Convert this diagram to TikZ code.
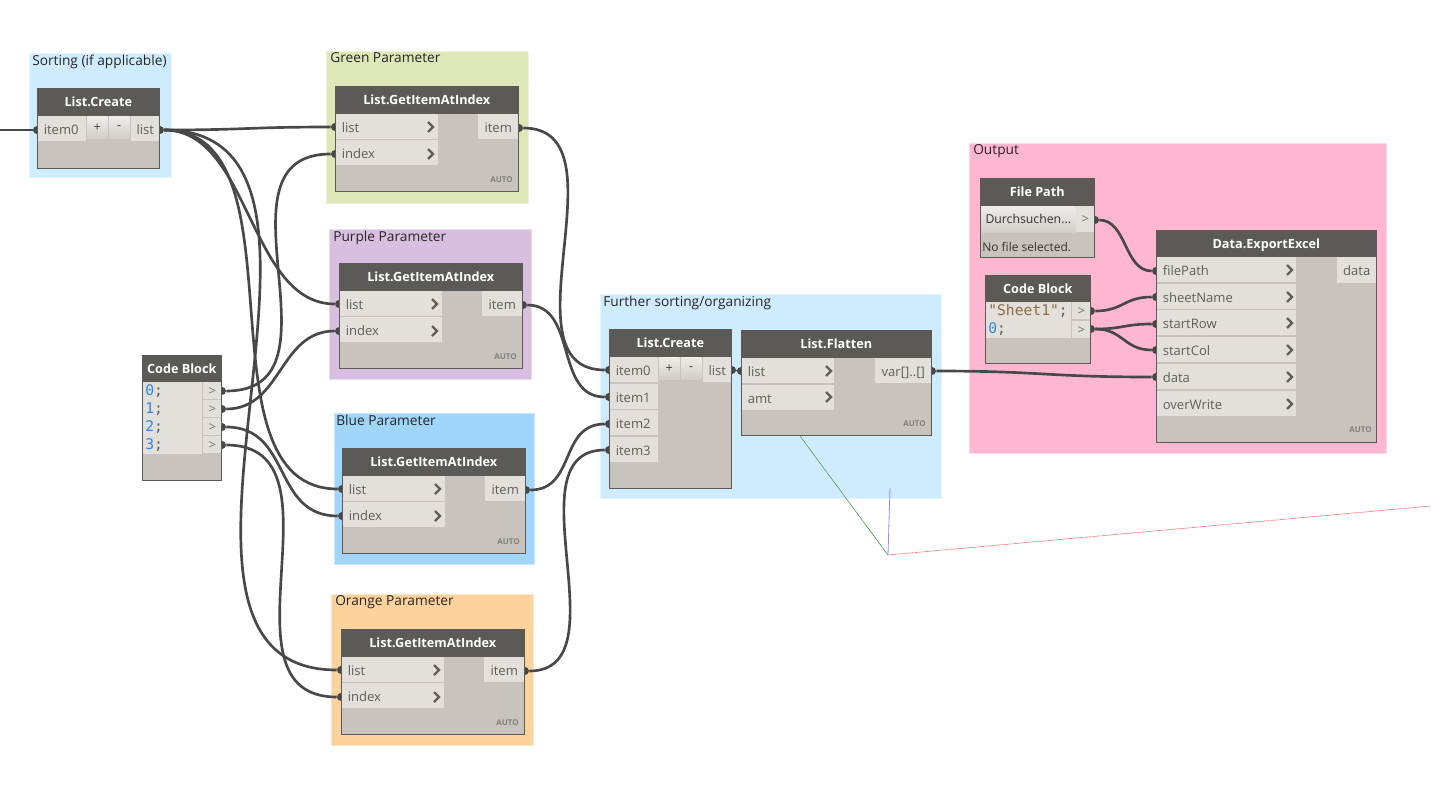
\documentclass[tikz,border=0pt]{standalone}
\usepackage{fontspec}
\setmainfont{Open Sans}
\setmonofont{DejaVu Sans Mono}
\definecolor{sortc}{HTML}{CFECFF}
\definecolor{grnc}{HTML}{DDE7B8}
\definecolor{purc}{HTML}{D9BFDF}
\definecolor{bluc}{HTML}{A0D6FC}
\definecolor{orgc}{HTML}{FDD29D}
\definecolor{outc}{HTML}{FFB6D1}
\definecolor{headc}{HTML}{5B5A57}
\definecolor{bodyc}{HTML}{C8C4BD}
\definecolor{cellc}{HTML}{E3E0DB}
\definecolor{wirec}{HTML}{484848}
\definecolor{textc}{HTML}{5F5E5B}
\definecolor{numc}{HTML}{2F86E8}
\definecolor{strc}{HTML}{8D6B43}

\begin{document}
\begin{tikzpicture}[x=0.75pt,y=-0.75pt,
    boxsize/.style 2 args={minimum width=#1*0.75pt,minimum height=#2*0.75pt},
    grp/.style={fill=#1,draw=#1!55!white,line width=0.75pt,anchor=north west,inner sep=0pt},
    grplabel/.style={anchor=north west,inner sep=0pt,font=\fontsize{10.3}{12}\selectfont,text=black!85},
    body/.style={fill=bodyc,draw=headc,line width=0.9pt,anchor=north west,inner sep=0pt},
    head/.style={fill=headc,anchor=north west,inner sep=0pt,text=white,font=\fontsize{9.5}{12}\selectfont\bfseries,text height=8.8pt,text depth=2pt},
    cell/.style={fill=cellc,anchor=north west,inner xsep=5.5*0.75pt,inner ysep=0pt,text=textc,align=left,
      text width=(#1-11)*0.75pt,font=\fontsize{9.8}{12}\selectfont,text height=10pt,text depth=2pt},
    code/.style={cell=#1,inner xsep=2*0.75pt,text width=(#1-4)*0.75pt,font=\ttfamily\fontsize{11}{13.5}\selectfont,text height=,text depth=},
    outcell/.style={fill=cellc,anchor=north west,inner sep=0pt,text=textc,font=\fontsize{9.8}{12}\selectfont,text height=10pt,text depth=2pt},
    gtcell/.style={outcell,text height=8.6pt,text=textc!85!white},
    btn/.style={top color=cellc!60!white,bottom color=cellc!92!black,anchor=north west,inner sep=0pt,text=black!75,font=\fontsize{9.5}{12}\selectfont},
    autotag/.style={anchor=east,inner sep=0pt,text=black!50,font=\fontsize{6}{7}\selectfont\bfseries},
    chev/.style={draw=textc,line width=1.7pt,line join=miter},
    port/.style={circle,fill=wirec,inner sep=0pt,minimum size=8*0.75pt},
    wire/.style={draw=wirec,line width=2pt,to path={.. controls ([shift={(#1,0)}]\tikztostart) and ([shift={(-#1,0)}]\tikztotarget) .. (\tikztotarget)}},
  ]
  \useasboundingbox (0,0) rectangle (1431,789);

  \foreach \n/\gx/\gy/\gw/\gh/\gc/\gt/\lx in {
    sort/29/53/142/124/sortc/{Sorting (if applicable)}/3,
    grn/326/51/202/152/grnc/{Green Parameter}/4,
    pur/329/229/202/150/purc/{Purple Parameter}/4,
    blu/334/413/200/151/bluc/{Blue Parameter}/2,
    org/331/594/202/151/orgc/{Orange Parameter}/4,
    fur/600/294/341/204/sortc/{Further sorting/organizing}/3,
    out/969/143/417/310/outc/{Output}/4}
  {
    \node[grp=\gc,boxsize={\gw}{\gh}] (\n-grp) at (\gx,\gy) {};
    \node[grplabel] (\n-lbl) at (\gx+\lx,\gy+1.5) {\gt};
  }

  \coordinate (origin) at (888,555);
  \coordinate (axisg) at (800,436);
  \coordinate (axisb) at (890,488);
  \coordinate (axisr) at (1431,506);
  \draw[green!45!black!70!white,line width=0.45pt] (axisg) -- (origin);
  \draw[blue!45!white,line width=0.6pt] (axisb) -- (origin);
  \draw[red!50!white,line width=0.5pt,dash pattern=on 6pt off 0.7pt] (origin) -- (axisr);

  \coordinate (feed) at (0,130);
  \foreach \n/\gx/\gy in {grn/335/86,pur/339/263,blu/342/448,org/341/629}
  {
    \node[port] (\n-list) at (\gx,\gy+41) {};
    \node[port] (\n-index) at (\gx,\gy+68) {};
    \node[port] (\n-item) at (\gx+184,\gy+42) {};
  }
  \foreach \n/\gx/\gy in {sc-item0/37/130,sc-list/160/130,
    cb-o0/222/391,cb-o1/222/409,cb-o2/222/427,cb-o3/222/445,
    fc-item0/609/370,fc-item1/609/397,fc-item2/609/424,fc-item3/609/450,fc-list/732/370,
    fl-list/741/371,fl-var/932/371,
    fp-out/1095/220,cs-o0/1091/311,cs-o1/1091/329,
    ex-filePath/1156/271,ex-sheetName/1156/297,ex-startRow/1156/324,ex-startCol/1156/350,ex-data/1156/377}
    \node[port] (\n) at (\gx,\gy) {};

  \path[draw=wirec,line width=2pt] (feed) -- (sc-item0);
  \path
    (sc-list) edge[wire=87] (grn-list)
    (sc-list) edge[wire=90] (pur-list)
    (sc-list) edge[wire=150] (blu-list)
    (sc-list) edge[wire=235] (org-list)
    (cb-o0) edge[wire=130] (grn-index)
    (cb-o1) edge[wire=60] (pur-index)
    (cb-o2) edge[wire=70] (blu-index)
    (cb-o3) edge[wire=130] (org-index)
    (grn-item) edge[wire=110] (fc-item0)
    (pur-item) edge[wire=55] (fc-item1)
    (blu-item) edge[wire=50] (fc-item2)
    (org-item) edge[wire=100] (fc-item3)
    (fc-list) edge[wire=5] (fl-list)
    (fl-var) edge[wire=110] (ex-data)
    (fp-out) edge[wire=32] (ex-filePath)
    (cs-o0) edge[wire=32] (ex-sheetName)
    (cs-o1) edge[wire=32] (ex-startRow)
    (cs-o1) edge[wire=32] (ex-startCol)
  ;

  \foreach \n/\gx/\gy in {grn/335/86,pur/339/263,blu/342/448,org/341/629}
  {
    \node[body,boxsize={183}{105}] (\n-body) at (\gx,\gy) {};
    \node[head,boxsize={183}{28}] (\n-head) at (\gx,\gy) {List.GetItemAtIndex};
    \node[cell=102,boxsize={102}{25}] (\n-clist) at (\gx+1,\gy+28) {list};
    \node[cell=102,boxsize={102}{25}] (\n-cindex) at (\gx+1,\gy+54) {index};
    \node[outcell,boxsize={40}{25}] (\n-citem) at (\gx+143,\gy+28) {item};
    \draw[chev] (\gx+93,\gy+36) -- (\gx+98,\gy+41) -- (\gx+93,\gy+46);
    \draw[chev] (\gx+93,\gy+63) -- (\gx+98,\gy+68) -- (\gx+93,\gy+73);
    \node[autotag] (\n-auto) at (\gx+178,\gy+94) {AUTO};
  }

  \foreach \n/\gx/\gy/\gh in {sc/37/88/80,fc/609/329/159}
  {
    \node[body,boxsize={122}{\gh}] (\n-body) at (\gx,\gy) {};
    \node[head,boxsize={122}{28}] (\n-head) at (\gx,\gy) {List.Create};
    \node[cell=48,boxsize={48}{25}] (\n-c0) at (\gx+1,\gy+28) {item0};
    \node[btn,boxsize={20}{22}] (\n-plus) at (\gx+50,\gy+28) {+};
    \node[btn,boxsize={20}{22}] (\n-minus) at (\gx+72,\gy+28) {-};
    \node[outcell,boxsize={28}{25}] (\n-cl) at (\gx+94,\gy+28) {list};
  }
  \node[cell=48,boxsize={48}{25}] (fc-c1) at (610,384) {item1};
  \node[cell=48,boxsize={48}{25}] (fc-c2) at (610,410) {item2};
  \node[cell=48,boxsize={48}{25}] (fc-c3) at (610,437) {item3};

  \node[body,boxsize={190}{105}] (fl-body) at (741,330) {};
  \node[head,boxsize={190}{28}] (fl-head) at (741,330) {List.Flatten};
  \node[cell=92,boxsize={92}{25}] (fl-c0) at (742,358) {list};
  \node[cell=92,boxsize={92}{25}] (fl-c1) at (742,385) {amt};
  \node[outcell,boxsize={56}{25}] (fl-cv) at (875,358) {var[]..[]};
  \draw[chev] (826,366) -- (831,371) -- (826,376);
  \draw[chev] (826,392) -- (831,397) -- (826,402);
  \node[autotag] (fl-auto) at (926,424) {AUTO};

  \node[body,boxsize={79}{125}] (cb-body) at (142,355) {};
  \node[head,boxsize={79}{27}] (cb-head) at (142,355) {Code Block};
  \node[code=59,boxsize={59}{72}] (cb-code) at (143,382)
    {\textcolor{numc}{0};\\\textcolor{numc}{1};\\\textcolor{numc}{2};\\\textcolor{numc}{3};};
  \foreach \i/\gy in {0/382,1/400,2/418,3/436}
    \node[gtcell,boxsize={18}{17}] (cb-c\i) at (203,\gy) {>};

  \node[body,boxsize={114}{79}] (fp-body) at (980,178) {};
  \node[head,boxsize={114}{28}] (fp-head) at (980,178) {File Path};
  \node[btn,boxsize={94}{26},text=black!80,font=\fontsize{9.2}{12}\selectfont] (fp-btn) at (981,206) {Durchsuchen...};
  \node[gtcell,boxsize={18}{26}] (fp-c) at (1076,206) {>};
  \node[anchor=west,inner sep=0pt,text=black!80,font=\fontsize{9}{12}\selectfont] (fp-note) at (982,247) {No file selected.};

  \node[body,boxsize={105}{88}] (cs-body) at (985,275) {};
  \node[head,boxsize={105}{27}] (cs-head) at (985,275) {Code Block};
  \node[code=85,boxsize={85}{36}] (cs-code) at (986,302)
    {\textcolor{strc}{"Sheet1"};\\\textcolor{numc}{0};};
  \node[gtcell,boxsize={18}{17}] (cs-c0) at (1072,302) {>};
  \node[gtcell,boxsize={18}{17}] (cs-c1) at (1072,321) {>};

  \node[body,boxsize={220}{212}] (ex-body) at (1156,230) {};
  \node[head,boxsize={220}{27}] (ex-head) at (1156,230) {Data.ExportExcel};
  \foreach \t/\gy in {filePath/257,sheetName/284,startRow/310,startCol/337,data/364,overWrite/391}
  {
    \node[cell=139,boxsize={139}{25}] (ex-c\t) at (1157,\gy) {\t};
    \draw[chev] (1287,\gy+8) -- (1292,\gy+13) -- (1287,\gy+18);
  }
  \node[outcell,boxsize={39}{26}] (ex-cd) at (1337,257) {data};
  \node[autotag] (ex-auto) at (1372,430) {AUTO};
\end{tikzpicture}
\end{document}
